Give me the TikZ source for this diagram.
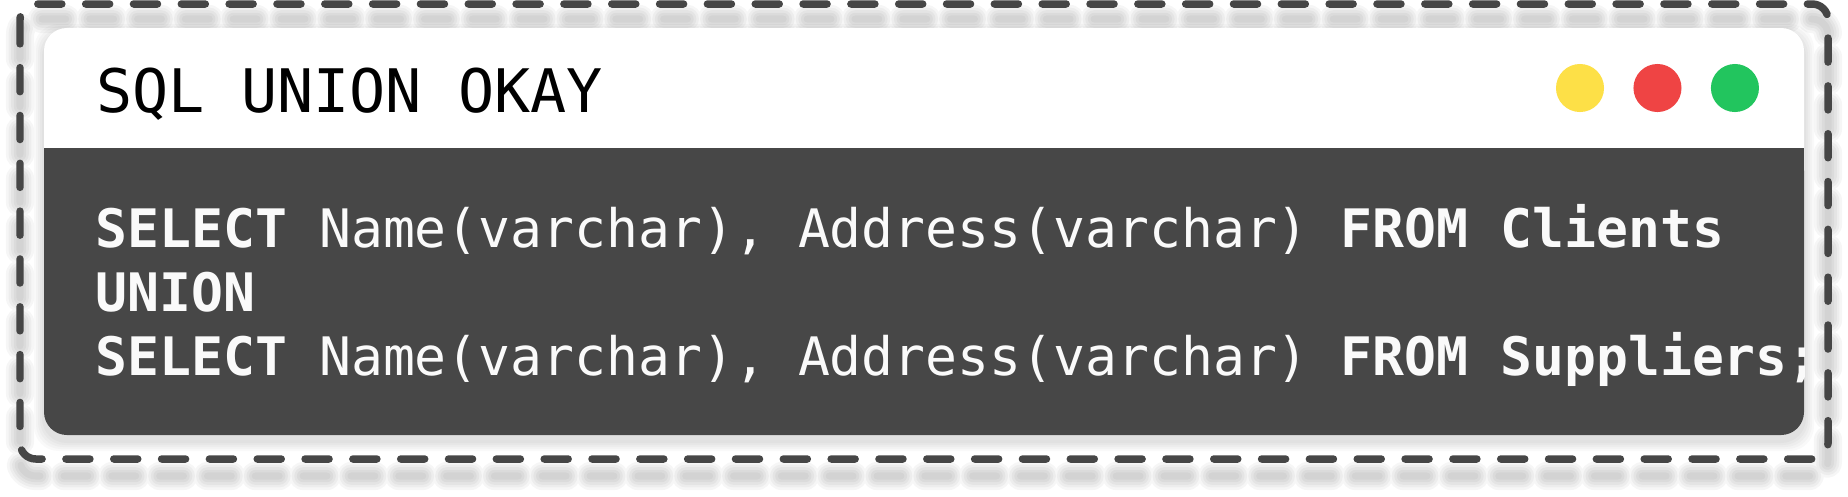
\documentclass[tikz,border=0pt]{standalone}
\usepackage{fontspec}
\setmonofont{DejaVu Sans Mono}
\usetikzlibrary{positioning}
\definecolor{bodygray}{HTML}{474747}
\definecolor{dashgray}{HTML}{464646}
\definecolor{dotyellow}{HTML}{FDE047}
\definecolor{dotred}{HTML}{EF4444}
\definecolor{dotgreen}{HTML}{22C55E}
\definecolor{codewhite}{HTML}{FAFAFA}
\tikzset{
  dot/.style = {circle, minimum size = 13.66pt, inner sep = 0pt},
  codeline/.style = {anchor = base west, inner sep = 0pt, text = codewhite, font = \ttfamily\fontsize{15.08}{18}\selectfont},
  frame/.style = {dashgray, line width = 2.13pt, line cap = round, dash pattern = on 6.83pt off 6.77pt, rounded corners = 4.5pt},
}
\begin{document}
\begin{tikzpicture}[x = 0.01cm, y = -0.01cm]
            \useasboundingbox (0,0) rectangle (1848,496);
            \fill[white] (0,0) rectangle (1848,496);
            %画出虚线外框的阴影
            \foreach \w in {2,3.5,5,6.5,8}
              \draw[frame, black, opacity = 0.035, line width = \w pt] (20,19) rectangle (1828,476);
            %画出虚线外框
            \draw[frame] (20,4) rectangle (1828,459);

            %画出窗口的阴影
            \foreach \e in {2,4,...,10}
              \fill[black, opacity = 0.025, rounded corners = 7pt] (44-\e,34-\e) rectangle (1804+\e,441+\e);
            %画出窗口:白色标题栏,灰色代码区
            \fill[white, rounded corners = 6.5pt] (44,28) rectangle (1804,435);
            \fill[bodygray, rounded corners = 6.5pt] (44,148) rectangle (1804,435);
            \fill[bodygray] (44,148) rectangle (1804,180);

            %标题与三个圆点
            \node[anchor = base west, inner sep = 0pt, font = \ttfamily\fontsize{17.07}{20}\selectfont] (title) at (96,112) {SQL UNION OKAY};
            \node[dot, fill = dotyellow] (yellow) at (1580,88) {};
            \node[dot, fill = dotred, right = 7.97pt of yellow] (red) {};
            \node[dot, fill = dotgreen, right = 7.97pt of red] (green) {};

            %代码,超出窗口的部分剪掉
            \begin{scope}
              \clip[rounded corners = 6.5pt] (44,148) rectangle (1804,435);
              \node[codeline] (line1) at (95,247) {\textbf{SELECT} Name(varchar), Address(varchar) \textbf{FROM Clients}};
              \node[codeline] (line2) at (95,311) {\textbf{UNION}};
              \node[codeline] (line3) at (95,375) {\textbf{SELECT} Name(varchar), Address(varchar) \textbf{FROM Suppliers;}};
            \end{scope}
        \end{tikzpicture}
\end{document}
